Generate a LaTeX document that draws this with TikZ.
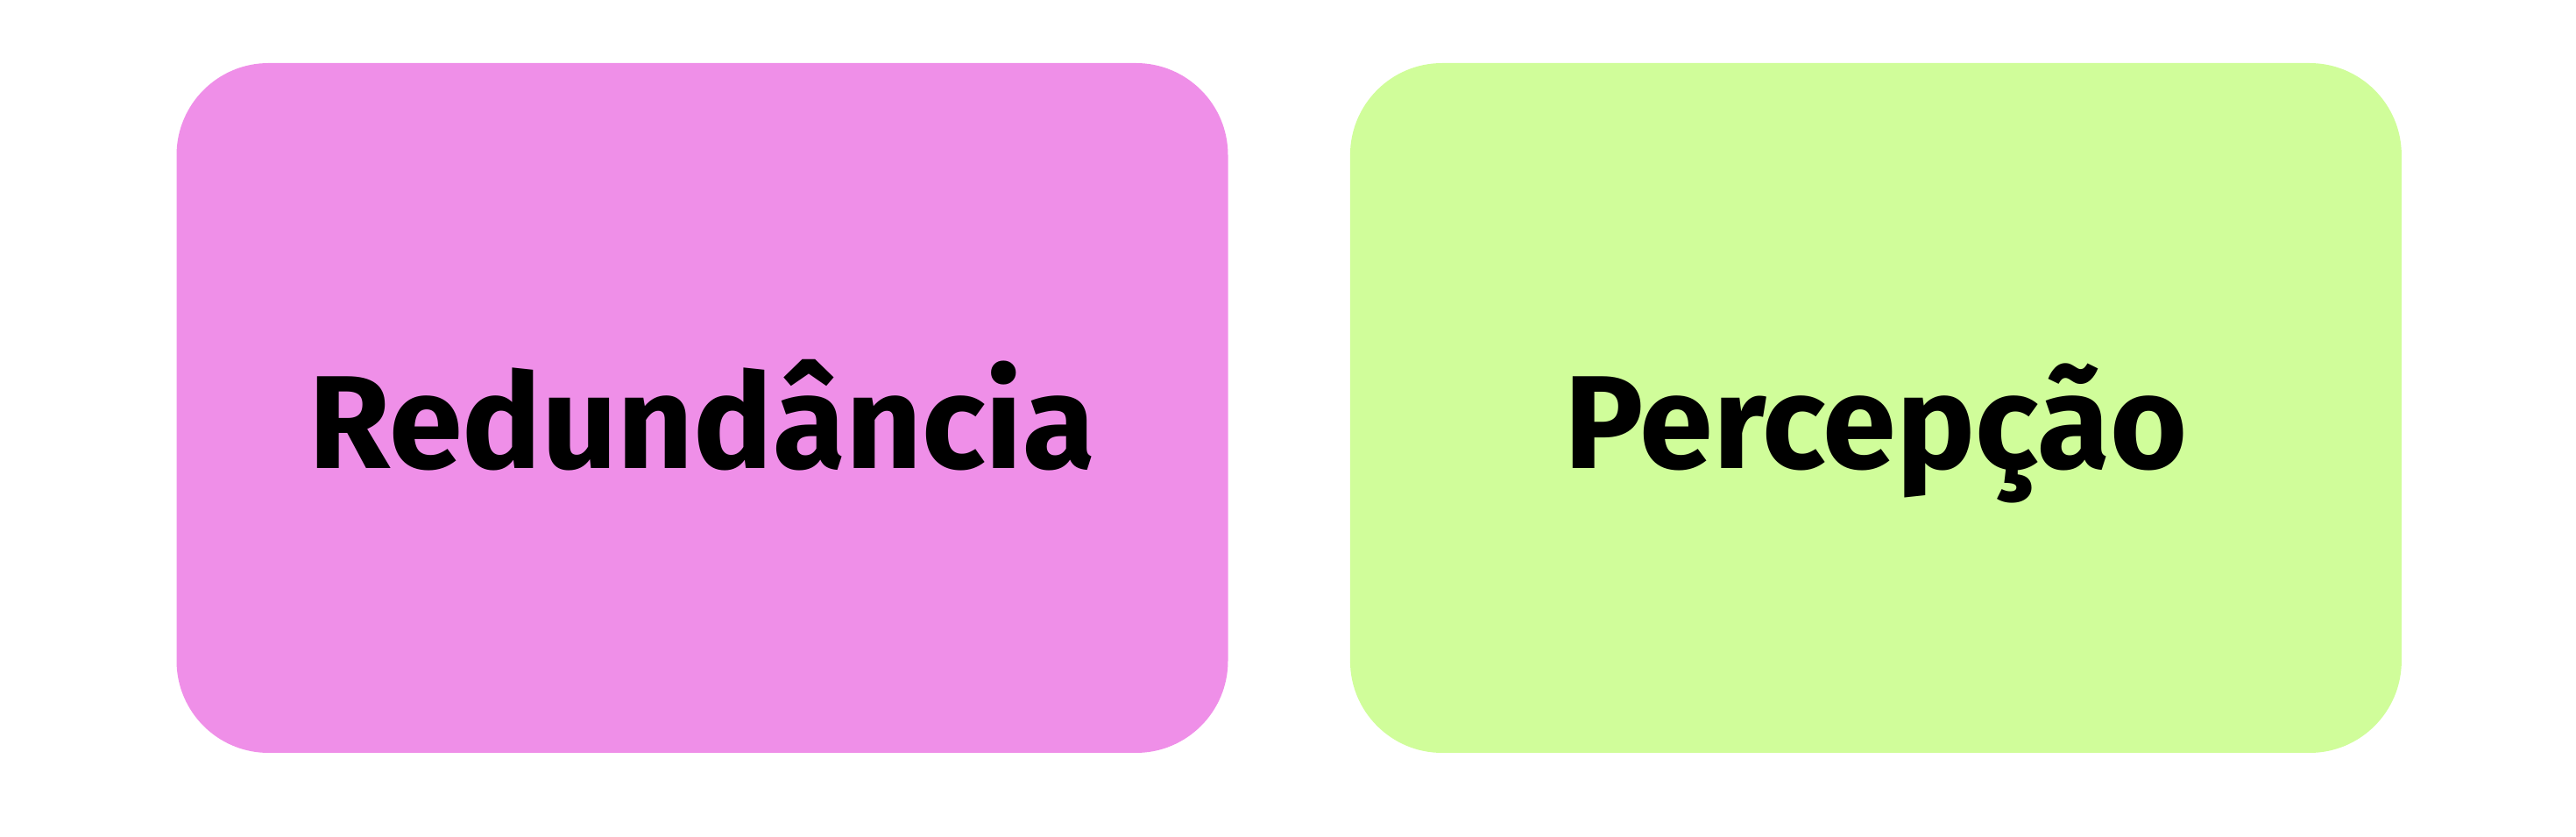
\documentclass[tikz,border=0pt]{standalone}
\usepackage{fontspec}
\setmainfont{Fira Sans}
\usepackage{tikz}
\usetikzlibrary{positioning}
\usepackage{xcolor}
\definecolor{pinkcard}{HTML}{EF8FE8}
\definecolor{limecard}{HTML}{D0FD9A}
\definecolor{ink}{HTML}{000000}

\begin{document}
\begin{tikzpicture}[
    card/.style={rounded corners=1.05cm, inner sep=0pt, minimum width=12cm,
      text height=4.63cm, text depth=3.24cm, text=ink,
      font=\fontsize{43}{50}\selectfont\bfseries}
  ]
        \useasboundingbox (0,0) rectangle (29.4,9.55);
        \node[card, fill=pinkcard] (redund) at (8.015,4.895) {Redundância};
        \node[card, fill=limecard, right=1.38cm of redund] (percep) {Percepção};
      \end{tikzpicture}
\end{document}
